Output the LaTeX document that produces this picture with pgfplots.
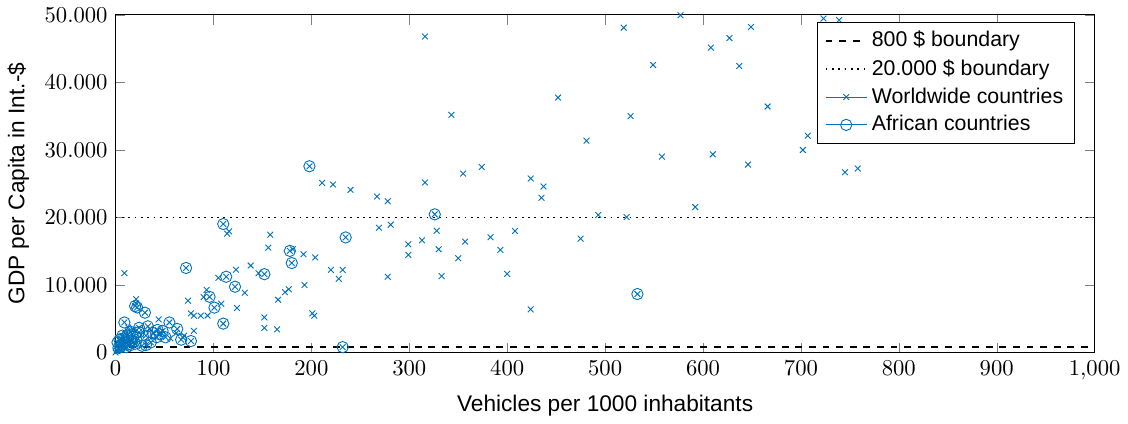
\documentclass[border=0pt]{standalone}
\usepackage{fontspec}
\setmainfont{Liberation Sans}
\usepackage{pgfplots}
\usepackage{pgfplotstable}
\pgfplotsset{compat=1.18}
\definecolor{mblue}{rgb}{0,0.447,0.741}

\pgfplotstableread{
x y
316 46800
519 48100
577 49950
649 48200
627 46560
608 45140
549 42580
637 42430
452 37760
343 35200
526 35000
481 31370
558 29010
610 29350
646 27830
374 27480
355 26500
316 25170
424 25770
437 24580
435 22910
267 23100
278 22400
666 36430
707 32100
702 29990
745 26700
758 27240
723 49460
739 49220
592 21540
493 20360
522 20060
475 16860
269 18480
281 18930
328 18040
408 18000
383 17070
313 16620
299 16030
299 14460
330 15290
357 16420
393 15190
350 13960
278 11210
333 11310
400 11650
424 6390
211 25120
222 24880
240 24090
158 17450
156 15530
181 15300
192 14560
204 14080
138 12880
220 12240
232 12240
228 10920
123 12260
146 11750
105 11060
132 8850
166 7820
173 8920
177 9370
193 10000
93 9270
90 8200
74 7670
108 7230
124 6600
114 17600
116 17950
9 11750
152 5200
152 3640
165 3440
201 5800
203 5460
77 5800
80 5460
87 5460
94 5480
80 3220
44 4900
69 2200
21 7900
21 7270
13 3700
0 0
1 300
2 900
4 1300
6 2000
10 2700
14 1700
18 3400
26 2600
35 3500
46 3000
56 2100
62 2900
70 2500
2 200
3 500
5 400
8 1100
}\worlddata

\pgfplotstableread{
x y
533 8660
326 20460
198 27580
235 17040
178 15050
180 13250
110 19030
72 12520
152 11600
113 11220
122 9740
96 8250
101 6650
110 4280
232 800
67 1900
77 1700
55 4450
63 3500
43 3350
33 3880
24 3660
42 2260
31 2500
51 2250
20 6880
22 6680
30 5900
9 4450
24 3000
31 1100
27 1000
2 1500
4 1900
6 1200
8 2100
10 1500
12 2500
14 1000
16 1800
18 2300
20 1300
3 700
5 900
7 2500
11 800
13 1200
15 3100
17 2700
19 1600
36 1500
38 2900
45 2700
48 3200
}\africadata

\begin{document}
\begin{tikzpicture}
\begin{axis}[
  scale only axis,
  width=432pt, height=149pt,
  xmin=0, xmax=1000, ymin=0, ymax=50000,
  xtick={0,100,...,1000},
  ytick={0,10000,...,50000},
  scaled y ticks=false,
  yticklabel style={/pgf/number format/1000 sep={.}},
  xlabel={Vehicles per 1000 inhabitants},
  ylabel={GDP per Capita in Int.-\$},
  legend style={at={(0.98,0.98)}, anchor=north east, font=\fontsize{9.4}{11.5}\selectfont, legend cell align=left},
]
\addplot[black, thick, dashed] coordinates {(0,800) (1000,800)};
\addlegendentry{800 \$ boundary}
\addplot[black, thick, dotted] coordinates {(0,20000) (1000,20000)};
\addlegendentry{20.000 \$ boundary}
\addplot[only marks, mblue, mark=x, mark size=1.8pt,
  legend image code/.code={\draw[sharp plot, mblue, mark=x, mark size=1.8pt, mark repeat=2, mark phase=2] plot coordinates {(0cm,0cm) (0.32cm,0cm) (0.64cm,0cm)};}]
  table[x=x,y=y] {\worlddata};
\addlegendentry{Worldwide countries}
\addplot[only marks, mblue, mark=x, mark size=1.8pt, forget plot] table[x=x,y=y] {\africadata};
\addplot[only marks, mblue, mark=o, mark size=2.5pt,
  legend image code/.code={\draw[sharp plot, mblue, mark=o, mark size=2.5pt, mark repeat=2, mark phase=2] plot coordinates {(0cm,0cm) (0.32cm,0cm) (0.64cm,0cm)};}]
  table[x=x,y=y] {\africadata};
\addlegendentry{African countries}
\end{axis}
\end{tikzpicture}
\end{document}
